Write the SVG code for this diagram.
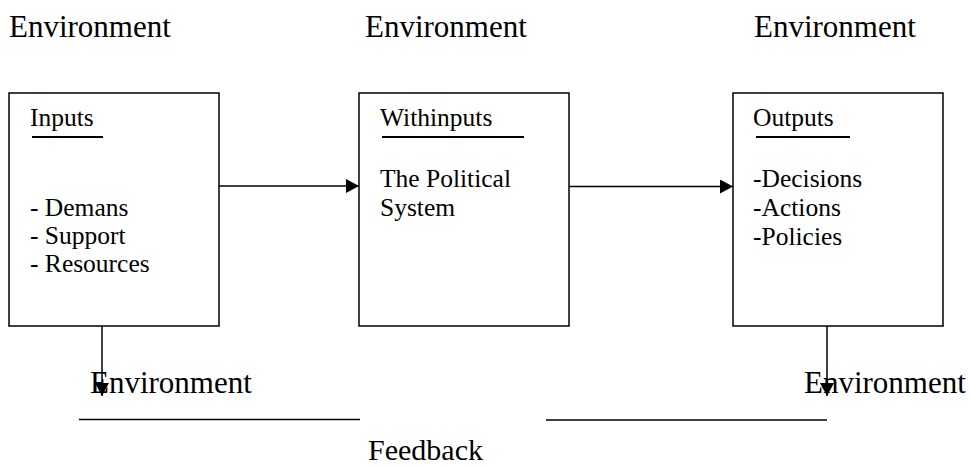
<svg xmlns="http://www.w3.org/2000/svg" width="969" height="466" viewBox="0 0 969 466">
<defs>
<style>
text{font-family:"Liberation Serif","Times New Roman",serif;fill:#000}
.env{font-size:31px}
.fb{font-size:30px}
.bt{font-size:25.5px}
.box{fill:#fff;stroke:#000;stroke-width:1.5}
.ln{stroke:#000;stroke-width:1.5;fill:none}
.ul{stroke:#000;stroke-width:2}
</style>
<marker id="ah" markerWidth="14" markerHeight="14" refX="13" refY="7" orient="auto" markerUnits="userSpaceOnUse">
<path d="M0,0 L13,7 L0,14 Z" fill="#000"/>
</marker>
</defs>
<rect width="969" height="466" fill="#fff"/>
<g id="env-top">
<text class="env" x="9" y="37">Environment</text>
<text class="env" x="365" y="37">Environment</text>
<text class="env" x="754" y="37">Environment</text>
</g>
<g id="inputs">
<rect class="box" x="9" y="93" width="210" height="233"/>
<text class="bt" x="30" y="126">Inputs</text>
<line class="ul" x1="32" y1="137" x2="103" y2="137"/>
<text class="bt" x="30" y="216">- Demans</text>
<text class="bt" x="30" y="244">- Support</text>
<text class="bt" x="30" y="272">- Resources</text>
</g>
<g id="withinputs">
<rect class="box" x="359" y="93" width="210" height="233"/>
<text class="bt" x="380" y="126">Withinputs</text>
<line class="ul" x1="382" y1="137" x2="524" y2="137"/>
<text class="bt" x="380" y="187">The Political</text>
<text class="bt" x="380" y="216">System</text>
</g>
<g id="outputs">
<rect class="box" x="733" y="93" width="210" height="233"/>
<text class="bt" x="753" y="126">Outputs</text>
<line class="ul" x1="756" y1="137" x2="850" y2="137"/>
<text class="bt" x="753" y="187">-Decisions</text>
<text class="bt" x="753" y="216">-Actions</text>
<text class="bt" x="753" y="245">-Policies</text>
</g>
<g id="env-bottom">
<text class="env" x="90" y="393">Environment</text>
<text class="env" x="804" y="393">Environment</text>
</g>
<g id="feedback">
<line class="ln" x1="79" y1="419.5" x2="360" y2="419.5"/>
<line class="ln" x1="546" y1="420" x2="827" y2="420"/>
<text class="fb" x="368" y="460">Feedback</text>
</g>
<g id="connectors">
<line class="ln" x1="219" y1="186" x2="359" y2="186" marker-end="url(#ah)"/>
<line class="ln" x1="569" y1="186.5" x2="733" y2="186.5" marker-end="url(#ah)"/>
<line class="ln" x1="102" y1="326" x2="102" y2="396" marker-end="url(#ah)"/>
<line class="ln" x1="827" y1="326" x2="827" y2="396" marker-end="url(#ah)"/>
</g>
</svg>
